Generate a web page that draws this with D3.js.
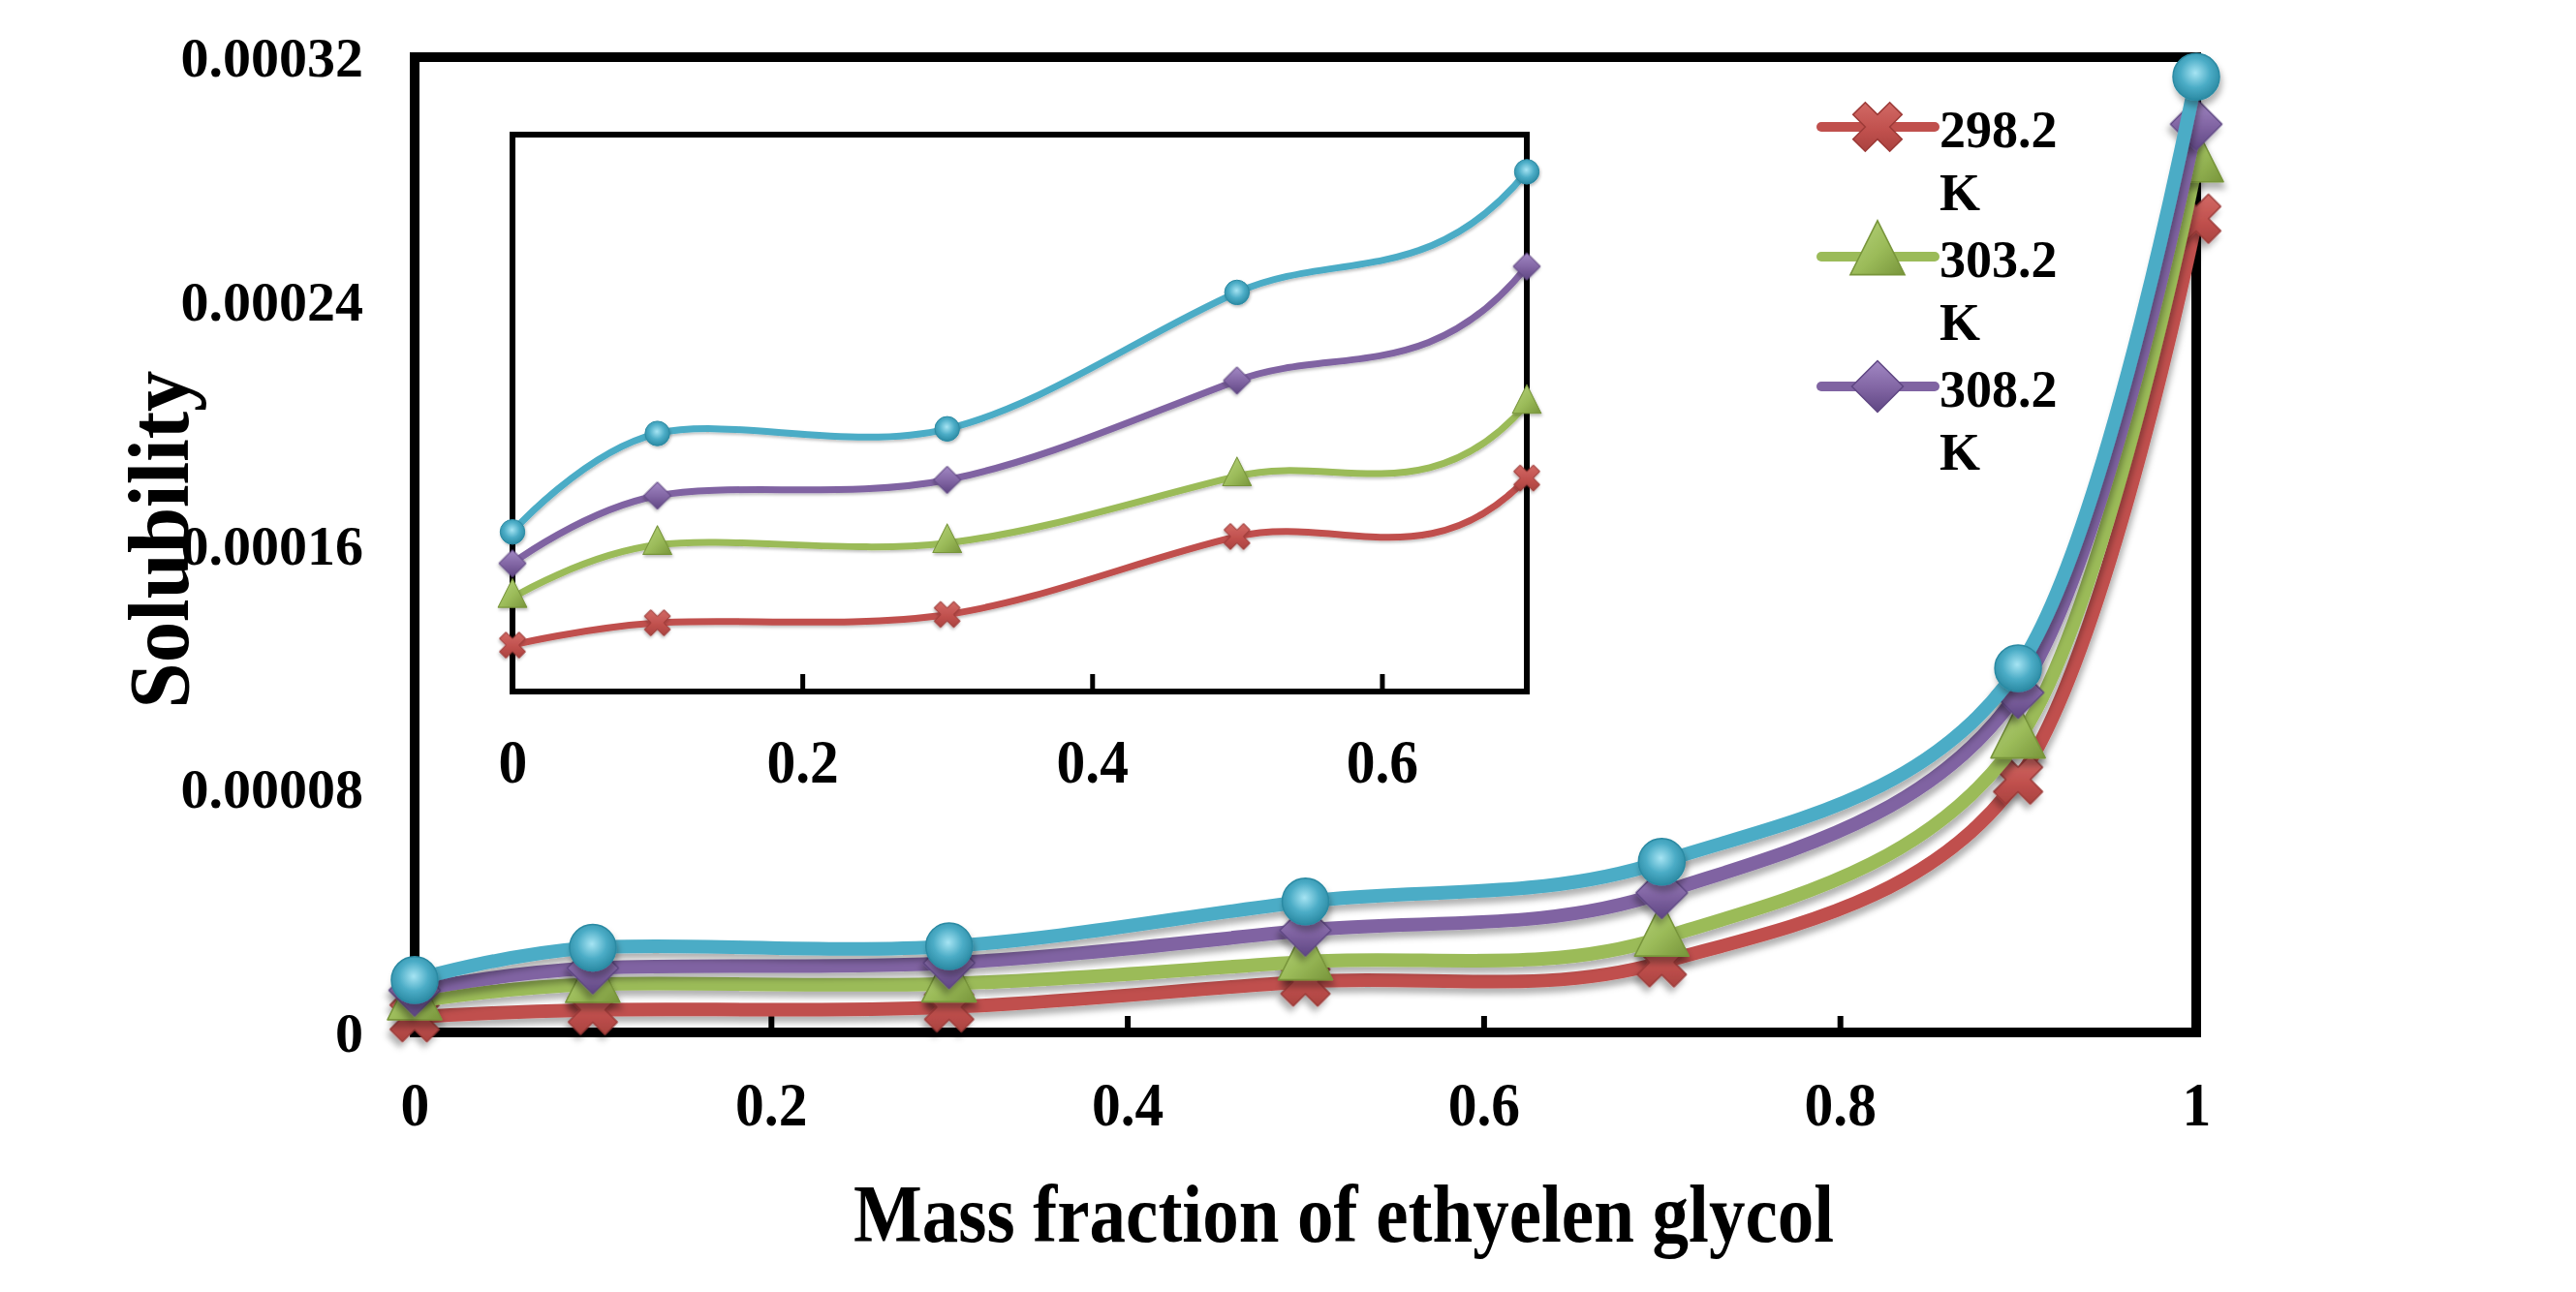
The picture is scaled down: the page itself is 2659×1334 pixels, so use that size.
<!DOCTYPE html>
<html>
<head>
<meta charset="utf-8">
<script src="https://cdn.jsdelivr.net/npm/d3@7"></script>
<style>
  html, body { margin: 0; padding: 0; background: #fff; }
  svg text { font-family: "Liberation Serif", "Times New Roman", serif; font-weight: bold; fill: #000; }
</style>
</head>
<body>
<svg id="chart" width="2659" height="1334"></svg>
<script>
// data
const massFraction = [0, 0.1, 0.3, 0.5, 0.7, 0.9, 1];
const sol298 = [0.0000050, 0.0000074, 0.0000083, 0.0000167, 0.0000230, 0.0000830, 0.000267];
const sol303 = [0.0000101, 0.0000158, 0.0000160, 0.0000232, 0.0000310, 0.0000960, 0.000285];
const sol308 = [0.0000138, 0.0000211, 0.0000228, 0.0000335, 0.0000458, 0.0001115, 0.000298];
const sol313 = [0.0000172, 0.0000278, 0.0000283, 0.0000430, 0.0000560, 0.0001195, 0.0003136];

const legendNames = ['298.2 K', '303.2 K', '308.2 K'];
const xTicks = [0, 0.2, 0.4, 0.6, 0.8, 1];
const xTickLabels = ['0', '0.2', '0.4', '0.6', '0.8', '1'];
const yTicks = [0, 0.00008, 0.00016, 0.00024, 0.00032];
const yTickLabels = ['0', '0.00008', '0.00016', '0.00024', '0.00032'];
const insetTicks = [0, 0.2, 0.4, 0.6];
const insetTickLabels = ['0', '0.2', '0.4', '0.6'];

const series = [
  { name: legendNames[0], values: sol298, color: '#C0504D', light: '#d9746f', dark: '#9c3a37', shape: 'x' },
  { name: legendNames[1], values: sol303, color: '#9BBB59', light: '#b8d47e', dark: '#78953b', shape: 'triangle' },
  { name: legendNames[2], values: sol308, color: '#8064A2', light: '#a288c4', dark: '#5f4683', shape: 'diamond' },
  { name: null, values: sol313, color: '#4BACC6', light: '#a6e4f3', dark: '#2b8aa3', shape: 'circle' }
];

const svg = d3.select('#chart');
const defs = svg.append('defs');

// big filter regions so transformed markers are not cut
function addShadow(id, dx, dy, blur, opacity) {
  let f = defs.append('filter').attr('id', id)
    .attr('filterUnits', 'userSpaceOnUse')
    .attr('x', -3000).attr('y', -3000).attr('width', 8000).attr('height', 8000);
  f.append('feDropShadow').attr('dx', dx).attr('dy', dy).attr('stdDeviation', blur)
    .attr('flood-color', '#000').attr('flood-opacity', opacity);
}
addShadow('shadow', 2, 6, 3, 0.3);
addShadow('shadowSmall', 1, 2, 1.5, 0.25);

series.forEach((s, i) => {
  let g;
  if (s.shape === 'circle') {
    g = defs.append('radialGradient').attr('id', 'grad' + i)
      .attr('cx', '48%').attr('cy', '42%').attr('r', '58%');
  } else {
    g = defs.append('linearGradient').attr('id', 'grad' + i)
      .attr('x1', '0%').attr('y1', '0%').attr('x2', '100%').attr('y2', '100%');
  }
  g.append('stop').attr('offset', '0%').attr('stop-color', s.light);
  g.append('stop').attr('offset', '55%').attr('stop-color', s.color);
  g.append('stop').attr('offset', '100%').attr('stop-color', s.dark);
});

defs.append('clipPath').attr('id', 'insetClip')
  .append('rect').attr('x', 529).attr('y', 139).attr('width', 1047).attr('height', 575);

function symbolFor(shape, scale) {
  if (shape === 'circle') return { type: d3.symbolCircle, size: 1810 * scale, rot: 0, sy: 1 };
  if (shape === 'diamond') return { type: d3.symbolSquare, size: 1406 * scale, rot: 45, sy: 1 };
  if (shape === 'triangle') return { type: d3.symbolTriangle, size: 1362 * scale, rot: 0, sy: 1.15 };
  return { type: d3.symbolCross, size: 1600 * scale, rot: 45, sy: 1 };
}

function drawMarkers(g, s, i, pts, x, y, scale) {
  let sym = symbolFor(s.shape, scale);
  g.selectAll(null)
    .data(pts)
    .enter().append('path')
      .attr('d', d3.symbol().type(sym.type).size(sym.size))
      .attr('transform', d => `translate(${x(d[0])},${y(d[1])}) rotate(${sym.rot}) scale(1,${sym.sy})`)
      .attr('fill', `url(#grad${i})`)
      .attr('stroke', s.dark)
      .attr('stroke-width', scale > 0.5 ? 1.5 : 1)
      .attr('stroke-linejoin', 'round')
      .attr('filter', scale > 0.5 ? 'url(#shadow)' : 'url(#shadowSmall)');
}

// ---------- main chart ----------
const mLeft = 428, mRight = 2267, mTop = 59, mBottom = 1066;
const x = d3.scaleLinear().domain([0, 1]).range([mLeft, mRight]);
const y = d3.scaleLinear().domain([0, 0.00032]).range([mBottom, mTop]);

let xAxis = svg.append('g')
  .attr('transform', `translate(0,${mBottom})`)
  .call(d3.axisBottom(x).tickValues(xTicks).tickSizeInner(-17).tickSizeOuter(0)
    .tickFormat((d, i) => xTickLabels[i]));
xAxis.select('.domain').remove();
xAxis.selectAll('line').attr('stroke', '#000').attr('stroke-width', 6);
xAxis.selectAll('text')
  .attr('y', 96).attr('dy', 0)
  .attr('font-size', 64)
  .attr('transform', 'scale(0.93,1)')
  .attr('fill', '#000');

let yAxis = svg.append('g')
  .attr('transform', `translate(${mLeft},0)`)
  .call(d3.axisLeft(y).tickValues(yTicks).tickSize(0).tickPadding(53)
    .tickFormat((d, i) => yTickLabels[i]));
yAxis.select('.domain').remove();
yAxis.selectAll('text').attr('font-size', 58).attr('dy', '0.34em').attr('fill', '#000');

svg.append('rect')
  .attr('x', mLeft).attr('y', mTop)
  .attr('width', mRight - mLeft).attr('height', mBottom - mTop)
  .attr('fill', 'none').attr('stroke', '#000').attr('stroke-width', 10);

const line = d3.line()
  .x(d => x(d[0]))
  .y(d => y(d[1]))
  .curve(d3.curveCardinal.tension(0));

let plot = svg.append('g');
series.forEach((s, i) => {
  let pts = massFraction.map((m, j) => [m, s.values[j]]);
  plot.append('path')
    .attr('d', line(pts))
    .attr('fill', 'none')
    .attr('stroke', s.color)
    .attr('stroke-width', 14)
    .attr('stroke-linecap', 'round')
    .attr('filter', 'url(#shadow)');
  drawMarkers(plot, s, i, pts, x, y, 1);
});

// ---------- inset (same data, x axis cut at 0.7) ----------
const iLeft = 529, iRight = 1576, iTop = 139, iBottom = 714;
const xi = d3.scaleLinear().domain([0, 0.7]).range([iLeft, iRight]);
const yi = d3.scaleLinear().domain([0, 0.00006]).range([iBottom, iTop]);

svg.append('rect')
  .attr('x', iLeft).attr('y', iTop)
  .attr('width', iRight - iLeft).attr('height', iBottom - iTop)
  .attr('fill', '#fff').attr('stroke', '#000').attr('stroke-width', 6);

let iAxis = svg.append('g')
  .attr('transform', `translate(0,${iBottom})`)
  .call(d3.axisBottom(xi).tickValues(insetTicks).tickSizeInner(-18).tickSizeOuter(0)
    .tickFormat((d, i) => insetTickLabels[i]));
iAxis.select('.domain').remove();
iAxis.selectAll('line').attr('stroke', '#000').attr('stroke-width', 5);
iAxis.selectAll('text')
  .attr('y', 94).attr('dy', 0)
  .attr('font-size', 64)
  .attr('transform', 'scale(0.93,1)')
  .attr('fill', '#000');

const iLine = d3.line()
  .x(d => xi(d[0]))
  .y(d => yi(d[1]))
  .curve(d3.curveCardinal.tension(0));

let inset = svg.append('g');
series.forEach((s, i) => {
  let pts = massFraction.map((m, j) => [m, s.values[j]]);
  inset.append('g').attr('clip-path', 'url(#insetClip)')
    .append('path')
      .attr('d', iLine(pts))
      .attr('fill', 'none')
      .attr('stroke', s.color)
      .attr('stroke-width', 7)
      .attr('stroke-linecap', 'round')
      .attr('filter', 'url(#shadowSmall)');
  drawMarkers(inset, s, i, pts.filter(d => d[0] <= 0.7), xi, yi, 0.28);
});

// ---------- legend ----------
const legendX = 1880, legendY = 131, legendStep = 134;
let legend = svg.append('g');
series.filter(s => s.name).forEach((s, i) => {
  let cy = legendY + i * legendStep;
  legend.append('line')
    .attr('x1', legendX).attr('x2', legendX + 117)
    .attr('y1', cy).attr('y2', cy)
    .attr('stroke', s.color).attr('stroke-width', 10).attr('stroke-linecap', 'round');
  let sym = symbolFor(s.shape, 1);
  legend.append('path')
    .attr('d', d3.symbol().type(sym.type).size(sym.size))
    .attr('transform', `translate(${legendX + 58},${cy}) rotate(${sym.rot}) scale(1,${sym.sy})`)
    .attr('fill', `url(#grad${i})`)
    .attr('stroke', s.dark).attr('stroke-width', 1.5);
  let parts = s.name.split(' ');
  let t = legend.append('text')
    .attr('x', legendX + 122).attr('y', cy + 21)
    .attr('font-size', 54);
  t.append('tspan').text(parts[0]);
  t.append('tspan').attr('x', legendX + 122).attr('dy', 65).text(parts[1]);
});

// ---------- axis titles ----------
svg.append('text')
  .attr('x', 1387).attr('y', 1282)
  .attr('text-anchor', 'middle')
  .attr('font-size', 84)
  .attr('textLength', 1012).attr('lengthAdjust', 'spacingAndGlyphs')
  .text('Mass fraction of ethyelen glycol');

svg.append('text')
  .attr('transform', 'translate(194,557) rotate(-90)')
  .attr('text-anchor', 'middle')
  .attr('font-size', 88)
  .attr('textLength', 349).attr('lengthAdjust', 'spacingAndGlyphs')
  .text('Solubility');
</script>
</body>
</html>
